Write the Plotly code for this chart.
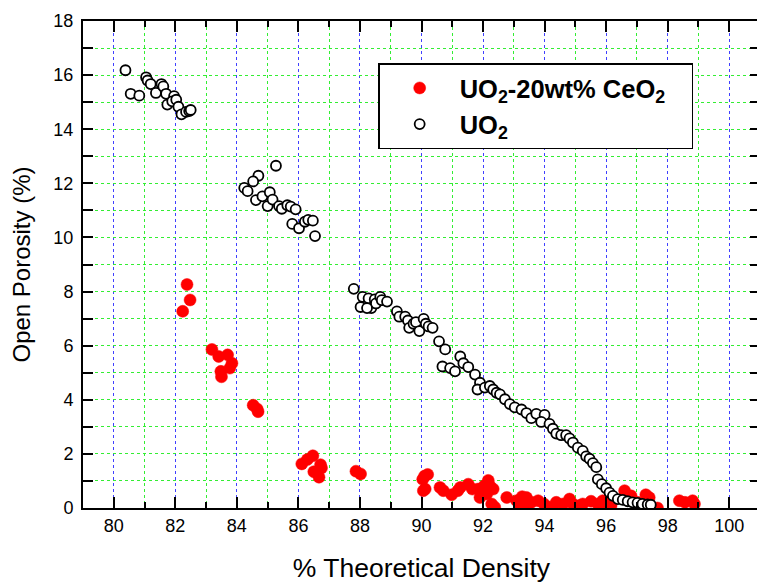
import plotly.graph_objects as go

# UO2-20wt% CeO2 (filled red)
ceo2_density = [82.38, 82.48, 82.24, 83.19, 83.41, 83.70, 83.84, 83.77, 83.48, 83.50,
                84.53, 84.69, 84.66, 86.11, 86.29, 86.47, 86.50, 86.67, 86.75, 86.72,
                87.87, 88.02,
                90.10, 90.20, 90.04, 90.12, 90.06, 90.60, 90.71, 90.98, 91.18, 91.26,
                91.52, 91.65, 91.84, 91.90, 92.04, 92.17, 92.22, 92.12, 92.33, 92.38,
                92.28, 92.77, 93.09, 93.27, 93.41, 93.20, 93.36, 93.57, 93.79, 93.98,
                94.17, 94.38, 94.60, 94.81, 94.92, 95.14, 95.24, 95.51, 95.73, 95.89,
                96.00, 96.16, 96.60, 96.81, 97.02, 97.29, 97.40, 97.67,
                98.38, 98.56, 98.81, 98.87]
ceo2_porosity = [8.26, 7.69, 7.27, 5.86, 5.60, 5.66, 5.35, 5.17, 5.05, 4.85,
                 3.80, 3.56, 3.66, 1.63, 1.79, 1.93, 1.34, 1.14, 1.48, 1.60,
                 1.36, 1.26,
                 1.18, 1.24, 1.06, 0.70, 0.64, 0.76, 0.64, 0.49, 0.64, 0.76,
                 0.88, 0.70, 0.70, 0.39, 0.82, 1.02, 0.82, 0.52, 0.70, 0.03,
                 0.15, 0.39, 0.27, 0.42, 0.39, 0.09, 0.05, 0.21, 0.27, 0.15,
                 0.03, 0.21, 0.15, 0.33, 0.15, 0.09, 0.15, 0.25, 0.15, 0.27,
                 0.03, 0.09, 0.64, 0.45, 0.21, 0.49, 0.39, 0.00,
                 0.27, 0.21, 0.27, 0.15]

# UO2 (open circles)
uo2_density = [80.38, 80.55, 80.83, 81.05, 81.10, 81.20, 81.37, 81.55, 81.61, 81.70,
               81.74, 81.96, 81.90, 82.03, 82.10, 82.20, 82.35, 82.45, 82.50,
               85.27, 84.70, 84.53, 84.24, 84.35, 84.62, 84.83, 85.07, 85.00, 85.16,
               85.37, 85.46, 85.64, 85.75, 85.91, 85.80, 86.02, 86.21, 86.32, 86.47,
               86.54,
               87.80, 88.09, 88.02, 88.28, 88.37, 88.48, 88.52, 88.66, 88.71, 88.88,
               88.23, 89.20, 89.28, 89.47, 89.56, 89.60, 89.74, 89.82, 89.93, 90.07,
               90.14, 90.23, 90.36, 90.57, 90.77, 90.68, 90.93, 91.09, 91.26, 91.36,
               91.52, 91.74, 91.90, 91.82, 92.06, 92.22, 92.33, 92.44,
               92.55, 92.71, 92.87, 93.03, 93.25, 93.41, 93.57, 93.73, 94.00, 93.89,
               94.16, 94.27, 94.38, 94.54, 94.70, 94.81, 94.92, 95.08, 95.24, 95.35,
               95.46, 95.57, 95.68, 95.73, 95.86, 96.00, 96.11, 96.22, 96.38, 96.54,
               96.70, 96.86, 97.02, 97.18, 97.35, 97.45]
uo2_porosity = [16.18, 15.31, 15.24, 15.92, 15.80, 15.67, 15.34, 15.67, 15.58, 15.31,
                14.91, 15.22, 15.03, 15.09, 14.83, 14.55, 14.64, 14.67, 14.71,
                12.65, 12.28, 12.07, 11.83, 11.71, 11.38, 11.52, 11.67, 11.16, 11.40,
                11.16, 11.06, 11.19, 11.14, 11.04, 10.50, 10.34, 10.58, 10.65, 10.62,
                10.05,
                8.10, 7.80, 7.43, 7.75, 7.39, 7.71, 7.56, 7.80, 7.68, 7.63,
                7.39, 7.27, 7.07, 7.07, 6.93, 6.66, 6.81, 6.87, 6.54, 6.99,
                6.81, 6.71, 6.66, 6.16, 5.86, 5.23, 5.17, 5.05, 5.60, 5.35,
                5.21, 4.93, 4.63, 4.38, 4.45, 4.51, 4.38, 4.26,
                4.20, 4.02, 3.84, 3.72, 3.64, 3.51, 3.32, 3.48, 3.44, 3.18,
                3.11, 2.93, 2.75, 2.69, 2.69, 2.57, 2.42, 2.23, 2.11, 1.91,
                1.82, 1.66, 1.51, 1.06, 0.88, 0.73, 0.57, 0.45, 0.33, 0.30,
                0.25, 0.21, 0.19, 0.15, 0.13, 0.12]

x_ticks = [80, 82, 84, 86, 88, 90, 92, 94, 96, 98, 100]
y_ticks = [0, 2, 4, 6, 8, 10, 12, 14, 16, 18]

FONT = "Liberation Sans, Arial, sans-serif"

fig = go.Figure()
fig.add_trace(go.Scatter(
    x=ceo2_density, y=ceo2_porosity, mode="markers",
    name="UO<sub>2</sub>-20wt% CeO<sub>2</sub>\u00a0\u00a0\u00a0",
    marker=dict(symbol="circle", size=12, color="#ff0000",
                line=dict(color="#ff0000", width=0.5)),
    legendrank=1,
))
fig.add_trace(go.Scatter(
    x=uo2_density, y=uo2_porosity, mode="markers",
    name="UO<sub>2</sub>",
    marker=dict(symbol="circle", size=10, color="white",
                line=dict(color="black", width=1.8)),
    legendrank=2,
))

fig.update_layout(
    width=757, height=580,
    margin=dict(l=75, r=3, t=4, b=80),
    paper_bgcolor="white", plot_bgcolor="white",
    font=dict(family=FONT, color="black"),
    showlegend=True,
    legend=dict(
        x=0.436, y=0.913, xanchor="left", yanchor="top",
        bordercolor="black", borderwidth=1.5, bgcolor="white",
        font=dict(family=FONT, size=25.5, color="black", weight="bold"),
        itemwidth=70,
    ),
    xaxis=dict(
        range=[79, 101], tickvals=x_ticks, ticktext=[str(v) for v in x_ticks],
        ticks="inside", ticklen=11, tickwidth=2, tickcolor="black",
        showline=True, linewidth=2, linecolor="black", mirror="allticks",
        showgrid=True, gridcolor="#4040ff", griddash="dot", gridwidth=1,
        zeroline=False, ticklabeloverflow="allow",
        tickfont=dict(size=18, family=FONT),
        title=dict(text="% Theoretical Density", font=dict(size=26.5, family=FONT), standoff=24),
        minor=dict(dtick=1, ticks="inside", ticklen=6, tickwidth=2, tickcolor="black",
                   showgrid=True, gridcolor="#33ee33", griddash="dot", gridwidth=1),
    ),
    yaxis=dict(
        range=[0, 18], tickvals=y_ticks, ticktext=[str(v) for v in y_ticks],
        ticks="inside", ticklen=10, tickwidth=2, tickcolor="black",
        showline=True, linewidth=2, linecolor="black", mirror="allticks",
        showgrid=True, gridcolor="#33ee33", griddash="dot", gridwidth=1,
        zeroline=False, ticklabelstandoff=4, ticklabeloverflow="allow",
        tickfont=dict(size=18, family=FONT),
        title=dict(text="Open Porosity (%)", font=dict(size=24, family=FONT), standoff=19),
        minor=dict(dtick=1, ticks="inside", ticklen=10, tickwidth=2, tickcolor="black",
                   showgrid=True, gridcolor="#33ee33", griddash="dot", gridwidth=1),
    ),
)

fig.write_html("out.html")
